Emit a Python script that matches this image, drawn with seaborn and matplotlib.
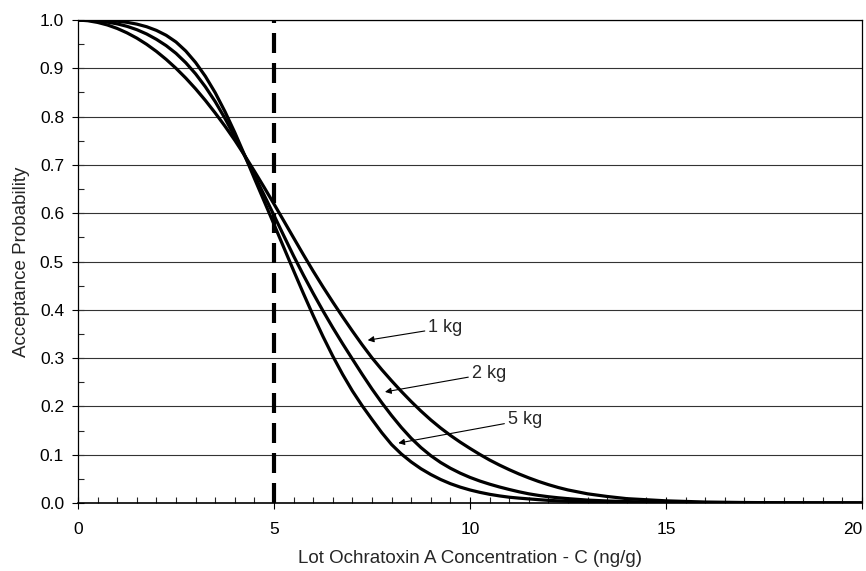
import numpy as np
import pandas as pd
import matplotlib
matplotlib.use("Agg")
import matplotlib.pyplot as plt
import seaborn as sns

# ---- data ----
conc = [0, 0.25, 0.5, 0.75, 1.0, 1.25, 1.5, 1.75, 2.0, 2.25, 2.5, 2.75, 3.0, 3.25,
        3.5, 3.75, 4.0, 4.25, 4.5, 4.75, 5.0, 5.25, 5.5, 5.75, 6.0, 6.25, 6.5,
        6.75, 7.0, 7.25, 7.5, 7.75, 8.0, 8.25, 8.5, 8.75, 9.0, 9.25, 9.5, 9.75,
        10.0, 10.25, 10.5, 10.75, 11.0, 11.25, 11.5, 11.75, 12.0, 12.25, 12.5,
        13, 13.5, 14, 15, 16, 17, 18, 19, 20]
p_1kg = [1.0, 0.9985, 0.995, 0.9897, 0.9825, 0.9734, 0.9625, 0.9497, 0.935,
         0.9184, 0.900, 0.8797, 0.8575, 0.8334, 0.8075, 0.7801, 0.751, 0.7197,
         0.687, 0.6534, 0.619, 0.5841, 0.549, 0.5141, 0.480, 0.4474, 0.416,
         0.3855, 0.356, 0.3275, 0.3005, 0.276, 0.253, 0.2309, 0.210, 0.1903,
         0.172, 0.1553, 0.140, 0.126, 0.113, 0.1006, 0.089, 0.0786, 0.069,
         0.0601, 0.052, 0.0446, 0.038, 0.0321, 0.027,
         0.019, 0.0135, 0.009, 0.0045, 0.002, 0.001, 0.0005, 0.0002, 0.0001]
p_2kg = [1.0, 0.9995, 0.998, 0.9956, 0.992, 0.9869, 0.980, 0.9711, 0.960,
         0.9469, 0.931, 0.9115, 0.8885, 0.8616, 0.831, 0.7962, 0.7585, 0.7192,
         0.6785, 0.6373, 0.5955, 0.5532, 0.5115, 0.4719, 0.434, 0.3977, 0.363,
         0.3299, 0.298, 0.2664, 0.236, 0.2076, 0.181, 0.1563, 0.134, 0.1147,
         0.098, 0.0839, 0.072, 0.0618, 0.053, 0.0455, 0.039, 0.0332, 0.028,
         0.0232, 0.019, 0.0157, 0.013, 0.0108, 0.009,
         0.006, 0.0042, 0.003, 0.0012, 0.0005, 0.0002, 0.0001, 0.0, 0.0]
p_5kg = [1.0, 0.9999, 0.9995, 0.9988, 0.9975, 0.9952, 0.9915, 0.9861, 0.9785,
         0.9683, 0.9545, 0.9357, 0.912, 0.8833, 0.8495, 0.8103, 0.767, 0.7203,
         0.672, 0.6246, 0.577, 0.5289, 0.481, 0.4338, 0.388, 0.3447, 0.304,
         0.2664, 0.232, 0.2013, 0.173, 0.1456, 0.121, 0.1014, 0.085, 0.0709,
         0.059, 0.0487, 0.040, 0.0329, 0.027, 0.0221, 0.018, 0.0147, 0.012,
         0.0101, 0.0085, 0.0069, 0.0055, 0.0044, 0.0035,
         0.002, 0.0012, 0.0007, 0.0002, 0.0, 0.0, 0.0, 0.0, 0.0]
series_names = ["1 kg", "2 kg", "5 kg"]
limit_conc = 5
x_ticks = [0, 5, 10, 15, 20]
y_ticks = [0.0, 0.1, 0.2, 0.3, 0.4, 0.5, 0.6, 0.7, 0.8, 0.9, 1.0]

df = pd.DataFrame({
    "C": conc * 3,
    "P": p_1kg + p_2kg + p_5kg,
    "size": sum([[n] * len(conc) for n in series_names], []),
})

sns.set_style("white")
plt.rcParams["font.family"] = ["Liberation Sans", "DejaVu Sans"]

fig = plt.figure(figsize=(8.66, 5.71), dpi=100)
ax = fig.add_axes([78 / 866, 1 - 503 / 571, (862 - 78) / 866, (503 - 20) / 571])

# gridlines
for yv in y_ticks[1:]:
    ax.axhline(yv, color="#333333", lw=0.8, zorder=1)

sns.lineplot(data=df, x="C", y="P", hue="size", palette=["black"] * 3,
             lw=2.3, legend=False, ax=ax, zorder=3)

ax.axvline(limit_conc, color="black", lw=3, linestyle=(0, (4.8, 2.4)), zorder=2)

ax.set_xlim(0, 20)
ax.set_ylim(0, 1)
ax.set_xticks(x_ticks)
ax.set_xticklabels([str(t) for t in x_ticks])
ax.set_yticks(y_ticks)
ax.set_yticklabels([f"{t:.1f}" for t in y_ticks])
ax.set_xticks(np.arange(0, 20.01, 0.5), minor=True)
ax.set_yticks(np.arange(0, 1.001, 0.05), minor=True)
ax.tick_params(axis="both", which="major", direction="inout", length=8, width=0.8,
               labelsize=12.5, colors="black", bottom=True, left=True)
ax.tick_params(axis="both", which="minor", direction="in", length=4, width=0.8,
               bottom=True, left=True)
ax.tick_params(axis="x", pad=10)
ax.tick_params(axis="y", pad=6)
for s in ax.spines.values():
    s.set_color("black")
    s.set_linewidth(0.9)
ax.spines["bottom"].set_linewidth(1.2)

ax.set_xlabel("Lot Ochratoxin A Concentration - C (ng/g)", fontsize=13.5, labelpad=9)
ax.set_ylabel("Acceptance Probability", fontsize=13.5, labelpad=7)

arrow = dict(arrowstyle="-|>", color="black", lw=0.8, mutation_scale=9,
             shrinkA=0, shrinkB=0)
ax.annotate("1 kg", xy=(7.39, 0.337), xytext=(8.93, 0.363), fontsize=13,
            va="center", ha="left", arrowprops=arrow)
ax.annotate("2 kg", xy=(7.83, 0.230), xytext=(10.04, 0.268), fontsize=13,
            va="center", ha="left", arrowprops=arrow)
ax.annotate("5 kg", xy=(8.17, 0.124), xytext=(10.96, 0.172), fontsize=13,
            va="center", ha="left", arrowprops=arrow)

labels = ax.get_xticklabels()
labels[-1].set_ha("right")

fig.savefig("out.png", dpi=100)
